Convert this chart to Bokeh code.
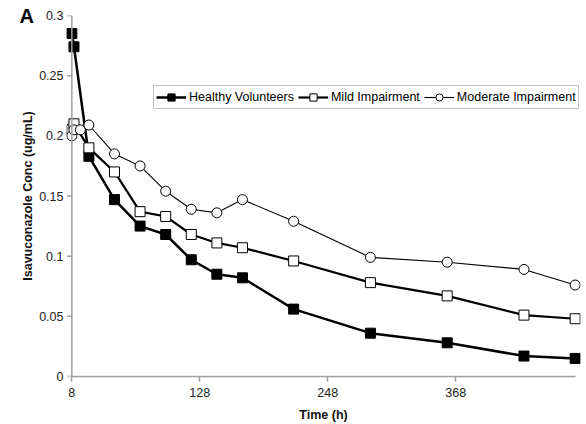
from bokeh.plotting import figure
from bokeh.models import Range1d, FixedTicker, CustomJSTickFormatter, Legend, Span, Title
from bokeh.embed import file_html
from bokeh.resources import INLINE

# Data (time in hours, concentration in ug/mL)
t_healthy = [8, 10, 24, 48, 72, 96, 120, 144, 168, 216, 288, 360, 432, 480]
healthy = [0.285, 0.274, 0.183, 0.147, 0.125, 0.118, 0.097, 0.085, 0.082, 0.056, 0.036, 0.028, 0.017, 0.015]

t_mild = [8, 10, 24, 48, 72, 96, 120, 144, 168, 216, 288, 360, 432, 480]
mild = [0.205, 0.210, 0.190, 0.170, 0.137, 0.133, 0.118, 0.111, 0.107, 0.096, 0.078, 0.067, 0.051, 0.048]

t_moderate = [8, 10, 16, 24, 48, 72, 96, 120, 144, 168, 216, 288, 360, 432, 480]
moderate = [0.200, 0.205, 0.205, 0.209, 0.185, 0.175, 0.154, 0.139, 0.136, 0.147, 0.129, 0.099, 0.095, 0.089, 0.076]

x_ticks = [8, 128, 248, 368]
y_ticks = [0, 0.05, 0.1, 0.15, 0.2, 0.25, 0.3]

FONT = "Liberation Sans"
FS = "12.5px"
AXIS_GRAY = "#a0a0a0"
X_START, X_END = 3, 485        # a little padding so edge markers are not clipped
AXIS_X = 8                     # where the y axis sits (first time point)
TICK_LEN_H = 4.7               # tick length expressed in hours

p = figure(width=586, height=424, output_backend="svg", toolbar_location=None,
           x_range=Range1d(X_START, X_END), y_range=Range1d(0, 0.3),
           min_border_left=66, min_border_right=6, min_border_top=15, min_border_bottom=48)
p.outline_line_color = None
p.xgrid.visible = False
p.ygrid.visible = False
p.background_fill_color = "white"
p.border_fill_color = "white"

for ax in (p.xaxis[0], p.yaxis[0]):
    ax.axis_line_color = AXIS_GRAY
    ax.axis_line_width = 1.5
    ax.major_tick_line_color = AXIS_GRAY
    ax.major_tick_line_width = 1.5
    ax.major_tick_out = 5
    ax.major_tick_in = 0
    ax.minor_tick_line_color = None
    ax.major_label_text_font = FONT
    ax.major_label_text_font_size = FS
    ax.major_label_text_color = "#222222"
    ax.axis_label_text_font = FONT
    ax.axis_label_text_font_size = FS
    ax.axis_label_text_font_style = "bold"
    ax.axis_label_text_color = "#111111"

p.xaxis.bounds = (AXIS_X, 480)
p.xaxis.ticker = FixedTicker(ticks=x_ticks)
p.xaxis.axis_label = "Time (h)"
p.xaxis.major_label_standoff = 6
p.xaxis.axis_label_standoff = 8

p.yaxis.ticker = FixedTicker(ticks=y_ticks)
p.yaxis.formatter = CustomJSTickFormatter(code="return (Math.round(tick*100)/100).toString();")
p.yaxis.axis_label = "Isavuconazole Conc (ug/mL)"
p.yaxis.axis_line_color = None
p.yaxis.major_tick_line_color = None
p.yaxis.major_tick_out = 0
p.yaxis.major_label_standoff = 3
p.yaxis.axis_label_standoff = 1

# y axis line and ticks drawn at t = 8
p.add_layout(Span(location=AXIS_X, dimension="height", line_color=AXIS_GRAY, line_width=1.5))
p.segment(x0=[AXIS_X - TICK_LEN_H] * len(y_ticks), y0=y_ticks,
          x1=[AXIS_X] * len(y_ticks), y1=y_ticks, line_color=AXIS_GRAY, line_width=1.5)

# Series
l1 = p.line(t_healthy, healthy, line_color="black", line_width=2.5)
s1 = p.scatter(t_healthy, healthy, marker="square", size=10, fill_color="black", line_color="black")

l2 = p.line(t_mild, mild, line_color="black", line_width=2.2)
s2 = p.scatter(t_mild, mild, marker="square", size=10, fill_color="white", line_color="black", line_width=1)

l3 = p.line(t_moderate, moderate, line_color="black", line_width=1.1)
s3 = p.scatter(t_moderate, moderate, marker="circle", size=10, fill_color="white", line_color="black", line_width=1)

legend = Legend(items=[("Healthy Volunteers", [l1, s1]),
                       ("Mild Impairment", [l2, s2]),
                       ("Moderate Impairment", [l3, s3])],
                orientation="horizontal", location=(87, 267))
legend.label_text_font = FONT
legend.label_text_font_size = FS
legend.label_text_color = "black"
legend.glyph_width = 30
legend.glyph_height = 18
legend.label_height = 18
legend.label_standoff = 3
legend.spacing = 4
legend.padding = 2
legend.margin = 0
legend.border_line_color = "#888888"
legend.border_line_width = 1
legend.background_fill_alpha = 1
p.add_layout(legend, "center")

# Panel letter, as a left-aligned title pulled into the top-left corner
p.title = Title(text="A", align="left", offset=-47, standoff=-22, vertical_align="bottom",
                text_font=FONT, text_font_size="20px", text_font_style="bold", text_color="black")

open("out.html", "w").write(file_html(p, INLINE))
